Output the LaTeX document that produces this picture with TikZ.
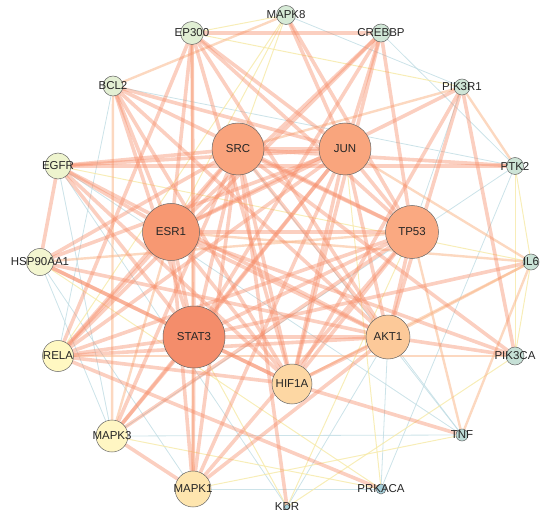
\documentclass[tikz,border=0pt]{standalone}
\usepackage{fontspec}
\setsansfont{Liberation Sans}
\definecolor{estr}{HTML}{F68C68}
\definecolor{emid}{HTML}{F9B88C}
\definecolor{eyel}{HTML}{F6E9A6}
\definecolor{eblu}{HTML}{BFDCE3}
\definecolor{cSTAT3}{HTML}{F48D6B}
\definecolor{cESR1}{HTML}{F79872}
\definecolor{cSRC}{HTML}{F9A37C}
\definecolor{cJUN}{HTML}{F9A57D}
\definecolor{cTP53}{HTML}{FAA981}
\definecolor{cAKT1}{HTML}{FCC999}
\definecolor{cHIF1A}{HTML}{FDD7A3}
\definecolor{cMAPK1}{HTML}{FEE5AE}
\definecolor{cMAPK3}{HTML}{FFF6C3}
\definecolor{cRELA}{HTML}{FFF8C2}
\definecolor{cHSP}{HTML}{F3F6D0}
\definecolor{cEGFR}{HTML}{EEF4CE}
\definecolor{cBCL2}{HTML}{E3EFD3}
\definecolor{cEP300}{HTML}{E1EFD4}
\definecolor{cMAPK8}{HTML}{D6EAD6}
\definecolor{cCREBBP}{HTML}{D0E6D6}
\definecolor{cPIK3R1}{HTML}{CFE5D6}
\definecolor{cPTK2}{HTML}{CDE4D6}
\definecolor{cIL6}{HTML}{C9E2D6}
\definecolor{cPIK3CA}{HTML}{C6E0D6}
\definecolor{cTNF}{HTML}{BCDBD6}
\definecolor{cPRKACA}{HTML}{A5CFDA}
\definecolor{cKDR}{HTML}{A8D2DC}
\begin{document}
\begin{tikzpicture}[x=1pt, y=-1pt, font=\sffamily\fontsize{11.5}{12}\selectfont,
    strongedge/.style={estr, line width=3.6pt, opacity=.42},
    midedge/.style={emid, line width=2.4pt, opacity=.55},
    yeledge/.style={eyel, line width=1pt, opacity=.8},
    bluedge/.style={eblu, line width=.8pt, opacity=.8}]
\useasboundingbox (0,0) rectangle (548,521);
\coordinate (SRC) at (238,149); \coordinate (JUN) at (345,149);
\coordinate (TP53) at (412,232); \coordinate (AKT1) at (388,337);
\coordinate (HIF1A) at (292,384); \coordinate (STAT3) at (194,337);
\coordinate (ESR1) at (171,232);
\coordinate (MAPK8) at (286,15); \coordinate (CREBBP) at (381,33);
\coordinate (PIK3R1) at (462,87); \coordinate (PTK2) at (515,166);
\coordinate (IL6) at (531,262); \coordinate (PIK3CA) at (515,356);
\coordinate (TNF) at (462,435); \coordinate (PRKACA) at (381,489);
\coordinate (KDR) at (287,507); \coordinate (MAPK1) at (193,489);
\coordinate (MAPK3) at (112,436); \coordinate (RELA) at (58,356);
\coordinate (HSP90AA1) at (40,262); \coordinate (EGFR) at (58,166);
\coordinate (BCL2) at (113,86); \coordinate (EP300) at (192,33);
\foreach \a/\b in {PRKACA/AKT1, PRKACA/PTK2, PRKACA/MAPK1, KDR/AKT1, KDR/EGFR, MAPK3/TNF,
    HSP90AA1/MAPK3, EGFR/MAPK3, BCL2/PTK2, MAPK8/PIK3R1, CREBBP/PTK2, HSP90AA1/MAPK1,
    TNF/AKT1, PIK3R1/TP53, EGFR/TNF, SRC/TNF, PTK2/MAPK3, BCL2/RELA}
    \draw[bluedge] (\a) -- (\b);
\foreach \a/\b in {PTK2/PIK3CA, PRKACA/MAPK3, PRKACA/HSP90AA1, KDR/PIK3CA, KDR/STAT3, MAPK8/EP300,
    MAPK8/ESR1, EP300/PIK3R1, IL6/PTK2, PIK3CA/IL6, TNF/MAPK1, EGFR/IL6, MAPK8/SRC, KDR/TP53,
    RELA/MAPK8, PRKACA/JUN}
    \draw[yeledge] (\a) -- (\b);
\foreach \a/\b in {BCL2/MAPK8, BCL2/MAPK3, PIK3R1/PTK2, IL6/JUN, IL6/AKT1, IL6/HIF1A, IL6/ESR1,
    IL6/TNF, TNF/TP53, EP300/MAPK1, PIK3R1/SRC, RELA/PIK3CA, HSP90AA1/TP53, MAPK3/ESR1}
    \draw[midedge] (\a) -- (\b);
\foreach \a/\b in {SRC/JUN, SRC/ESR1, SRC/STAT3, SRC/TP53, SRC/AKT1, SRC/HIF1A, JUN/ESR1,
    JUN/STAT3, JUN/TP53, JUN/AKT1, JUN/HIF1A, ESR1/STAT3, ESR1/TP53, ESR1/AKT1, ESR1/HIF1A,
    STAT3/TP53, STAT3/AKT1, STAT3/HIF1A, TP53/AKT1, TP53/HIF1A, AKT1/HIF1A,
    EP300/CREBBP, EP300/ESR1, EP300/STAT3, EP300/JUN, EP300/TP53, EP300/HIF1A, EP300/RELA, EP300/AKT1,
    MAPK8/JUN, MAPK8/TP53, CREBBP/JUN, CREBBP/TP53, CREBBP/STAT3, CREBBP/ESR1, CREBBP/HIF1A, CREBBP/RELA,
    PIK3R1/ESR1, PIK3R1/AKT1, PIK3R1/PIK3CA, PIK3R1/HIF1A, SRC/PTK2, IL6/STAT3,
    PIK3CA/AKT1, PIK3CA/ESR1, PIK3CA/SRC, TNF/HIF1A, PRKACA/RELA, KDR/SRC,
    MAPK1/MAPK3, MAPK1/STAT3, MAPK1/ESR1, MAPK1/JUN, MAPK1/TP53, MAPK1/AKT1, MAPK1/SRC,
    MAPK3/STAT3, MAPK3/JUN, MAPK3/SRC, MAPK3/TP53,
    RELA/STAT3, RELA/ESR1, RELA/JUN, RELA/TP53, RELA/AKT1, RELA/HIF1A, RELA/SRC,
    HSP90AA1/EGFR, HSP90AA1/SRC, HSP90AA1/JUN, HSP90AA1/AKT1, HSP90AA1/STAT3, HSP90AA1/HIF1A,
    EGFR/SRC, EGFR/JUN, EGFR/PTK2, EGFR/ESR1, EGFR/STAT3, EGFR/AKT1, EGFR/HIF1A,
    BCL2/JUN, BCL2/TP53, BCL2/ESR1, BCL2/STAT3, BCL2/AKT1, BCL2/HIF1A}
    \draw[strongedge] (\a) -- (\b);
\foreach \p/\r/\c in {STAT3/31/cSTAT3, ESR1/28.5/cESR1, SRC/26/cSRC, JUN/26/cJUN, TP53/26.5/cTP53,
    AKT1/22/cAKT1, HIF1A/20/cHIF1A, MAPK1/18/cMAPK1, MAPK3/16/cMAPK3, RELA/15.5/cRELA,
    HSP90AA1/13.5/cHSP, EGFR/13/cEGFR, BCL2/10/cBCL2, EP300/11.5/cEP300, MAPK8/9.5/cMAPK8,
    CREBBP/9/cCREBBP, PIK3R1/8/cPIK3R1, PTK2/8.5/cPTK2, IL6/8/cIL6, PIK3CA/9/cPIK3CA,
    TNF/6/cTNF, PRKACA/5/cPRKACA, KDR/2.5/cKDR}
    \draw[fill=\c, draw=black!60, line width=.5pt] (\p) circle (\r pt) node[text=black!85] (l-\p) {\p};
\end{tikzpicture}
\end{document}
